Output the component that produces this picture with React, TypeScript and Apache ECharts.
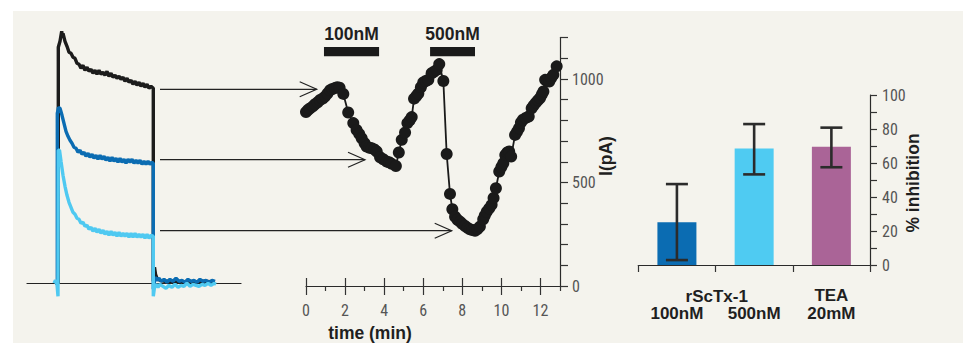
import React, { useEffect, useRef } from "react";
import * as echarts from "echarts";

// ---------- Left panel: current traces (hidden axes: x in ms, y in arbitrary current units) ----------
const blackTrace: number[][] = [
  [55, 0], [58.3, 0], [58.3, 236], [60, 242], [61.7, 252], [62.5, 246], [63, 250], [65, 242], [67, 237], [69, 231],
  [71, 230], [73, 226], [75, 225], [77, 220], [79, 219], [81, 215], [83, 218], [85, 213], [87, 216], [89, 212],
  [91, 214], [93, 210], [95, 213], [97, 209], [99, 213], [101, 209], [103, 211], [105, 208], [107, 212], [109, 207],
  [111, 210], [113, 206], [115, 208], [117, 205], [119, 207], [121, 204], [123, 206], [125, 202], [127, 205], [129, 201],
  [131, 203], [133, 199], [135, 202], [137, 198], [139, 201], [141, 197], [143, 200], [145, 196], [147, 199], [149, 195],
  [151, 197], [153.3, 195], [153.3, 2], [154.5, 16], [155.5, 9], [157, 5], [160, 3], [165, 2], [175, 2], [190, 1],
  [205, 2], [215, 1],
];
const darkBlueTrace: number[][] = [
  [55, 0], [57.3, 0], [57.3, 170], [58.5, 176], [60, 175], [62, 168], [64, 160], [66, 152], [68, 147], [70, 143],
  [72, 140], [74, 136], [76, 135], [78, 131], [80, 133], [82, 129], [84, 131], [86, 127], [88, 130], [90, 126],
  [92, 129], [94, 125], [96, 128], [98, 124], [100, 128], [102, 124], [104, 127], [106, 123], [108, 126], [110, 122],
  [112, 126], [114, 122], [116, 125], [118, 121], [120, 125], [122, 121], [124, 124], [126, 120], [128, 124], [130, 121],
  [132, 124], [134, 120], [136, 123], [138, 120], [140, 123], [142, 119], [144, 122], [146, 119], [148, 122], [150, 119],
  [152, 121], [153.3, 120], [153.3, -6], [155, 6], [157, 3], [159, 5], [161, 2], [164, 4], [167, 1], [170, 4],
  [173, 2], [176, 5], [179, 2], [182, 3], [185, 1], [188, 4], [191, 2], [194, 3], [197, 1], [200, 4],
  [203, 2], [206, 3], [209, 1], [212, 3], [215, 2],
];
const lightBlueTrace: number[][] = [
  [54, 0], [55.5, 3], [57, -1], [58, -13], [58.3, 133], [59.5, 133], [61, 122], [63, 108], [65, 97], [67, 88],
  [69, 81], [71, 76], [73, 71], [75, 69], [77, 65], [79, 64], [81, 60], [83, 61], [85, 57], [87, 58],
  [89, 54], [91, 56], [93, 52], [95, 55], [97, 51], [99, 54], [101, 50], [103, 53], [105, 49], [107, 52],
  [109, 48], [111, 52], [113, 48], [115, 51], [117, 47], [119, 51], [121, 47], [123, 50], [125, 47], [127, 50],
  [129, 46], [131, 50], [133, 46], [135, 50], [137, 46], [139, 49], [141, 46], [143, 49], [145, 45], [147, 49],
  [149, 45], [151, 48], [153.3, 47], [153.3, -13], [154.5, -4], [156, -1], [158, -4], [160, -1], [163, -3], [166, -5],
  [169, -2], [172, -4], [175, -1], [178, -4], [181, -2], [184, -3], [187, 0], [190, -3], [193, -1], [196, -2],
  [199, -3], [202, -1], [205, -2], [208, 0], [211, -2], [214, 0], [216, -1],
];

// ---------- Middle panel: current vs time ----------
const timeMin = [
  0.0, 0.1, 0.2, 0.35, 0.46, 0.6, 0.72, 0.85, 0.97, 1.1, 1.23, 1.35, 1.48, 1.6, 1.72, 1.91, 2.16, 2.42, 2.59, 2.72,
  2.85, 3.0, 3.1, 3.25, 3.36, 3.5, 3.62, 3.79, 3.95, 4.13, 4.25, 4.39, 4.6, 4.75, 4.9, 5.07, 5.19, 5.3, 5.41, 5.53,
  5.65, 5.75, 5.88, 6.0, 6.13, 6.26, 6.43, 6.55, 6.69, 6.82, 7.03, 7.2, 7.37, 7.49, 7.63, 7.75, 7.88, 8.0, 8.14, 8.27,
  8.39, 8.52, 8.65, 8.78, 8.9, 9.07, 9.15, 9.25, 9.38, 9.5, 9.6, 9.72, 9.89, 10.0, 10.1, 10.2, 10.3, 10.4, 10.5, 10.7,
  10.8, 10.9, 11.0, 11.1, 11.25, 11.4, 11.55, 11.65, 11.77, 11.88, 11.98, 12.07, 12.15, 12.24, 12.35, 12.45, 12.55, 12.66, 12.83,
];
const currentPA = [
  840, 850, 858, 868, 878, 888, 899, 905, 915, 930, 946, 952, 956, 960, 958, 928, 838, 787, 754, 735,
  714, 690, 674, 668, 666, 660, 650, 622, 612, 601, 598, 590, 580, 645, 706, 741, 787, 800, 816, 905,
  918, 930, 960, 983, 990, 996, 1028, 1035, 1044, 1072, 990, 638, 445, 371, 335, 320, 311, 300, 290, 281,
  274, 270, 267, 275, 287, 322, 340, 359, 375, 392, 425, 472, 553, 575, 593, 633, 645, 650, 625, 730,
  745, 762, 790, 803, 812, 819, 859, 872, 886, 898, 908, 925, 940, 996, 990, 988, 1005, 1020, 1061,
];
const timeMajorTicks = [0, 2, 4, 6, 8, 10, 12];
const timeMinorTicks = [1, 3, 5, 7, 9, 11, 13];
const currentLabels = [0, 500, 1000];
const drugNames = ["100nM", "500nM"];
const drugStart = [0.92, 6.35];
const drugEnd = [3.74, 8.65];

// ---------- Right panel: % inhibition ----------
const barCategories = ["\n100nM", "\n500nM", "TEA\n20mM"];
const inhibition = [25.1, 68.6, 69.6];
const errLow = [2.9, 53.3, 57.5];
const errHigh = [47.6, 82.9, 80.8];
const barColors = ["#0b6cb2", "#4fcbf2", "#aa6497"];
const inhibitionLabels = [0, 20, 40, 60, 80, 100];

const narrow = "'Roboto Condensed', 'Liberation Sans Narrow', 'Arial Narrow', 'DejaVu Sans Condensed', sans-serif";
const boldFamily = "'Liberation Sans', Arial, Helvetica, sans-serif";
const ink = "#1f1f1f";
const tickGrey = "#555";

// arrows (annotation)
const arrowY = [89.3, 159.7, 230.7];
const arrowTip = [316.7, 365, 451.7];

export default function App() {
  const ref = useRef<HTMLDivElement>(null);
  useEffect(() => {
    const chart = echarts.init(ref.current!, null, { renderer: "svg" });

    const graphics: any[] = [
      { type: "rect", shape: { x: 0, y: 0, width: 963, height: 11 }, style: { fill: "#ffffff" }, silent: true },
      { type: "rect", shape: { x: 0, y: 0, width: 13, height: 343 }, style: { fill: "#ffffff" }, silent: true },
    ];
    arrowY.forEach((y, i) => {
      graphics.push({
        type: "line",
        shape: { x1: 160, y1: y, x2: arrowTip[i], y2: y },
        style: { stroke: "#222", lineWidth: 1.2 },
        z: 1,
      });
      graphics.push({
        type: "polyline",
        shape: { points: [[arrowTip[i] - 17, y - 7.5], [arrowTip[i], y], [arrowTip[i] - 17, y + 7.5]] },
        style: { stroke: "#222", lineWidth: 1.2, fill: "none" },
        z: 1,
      });
    });
    graphics.push(
      {
        type: "text",
        x: 370,
        y: 333,
        style: { text: "time (min)", font: `bold 17.5px ${boldFamily}`, fill: ink, align: "center", verticalAlign: "middle" },
      },
      {
        type: "text",
        x: 606,
        y: 156,
        rotation: Math.PI / 2,
        style: { text: "I(pA)", font: `bold 17.5px ${boldFamily}`, fill: ink, align: "center", verticalAlign: "middle" },
      },
      {
        type: "text",
        x: 913,
        y: 183,
        rotation: Math.PI / 2,
        style: { text: "% inhibition", font: `bold 17.5px ${boldFamily}`, fill: ink, align: "center", verticalAlign: "middle" },
      },
      {
        type: "text",
        x: 716.7,
        y: 296,
        style: { text: "rScTx-1", font: `bold 17px ${boldFamily}`, fill: ink, align: "center", verticalAlign: "middle" },
      }
    );

    const axisLineStyle = { color: "#2a2a2a", width: 1.2 };
    const plain = (v: number) => String(v);

    const option: any = {
      animation: false,
      backgroundColor: "#f4f3ed",
      grid: [
        { left: 27, top: 23.3, width: 214, height: 280 },
        { left: 306, top: 37.6, width: 254, height: 248.4 },
        { left: 638.3, top: 95, width: 231.7, height: 170 },
      ],
      xAxis: [
        {
          gridIndex: 0, type: "value", min: 27, max: 241,
          axisLine: { show: true, onZero: true, lineStyle: { color: "#222", width: 1.2 } },
          axisTick: { show: false }, axisLabel: { show: false }, splitLine: { show: false },
        },
        {
          gridIndex: 1, type: "value", min: 0, max: 13, position: "bottom",
          axisLine: { show: true, onZero: false, lineStyle: axisLineStyle },
          axisTick: { show: true, length: 9, customValues: timeMajorTicks, lineStyle: { color: "#333", width: 1.2 } },
          axisLabel: { show: true, customValues: timeMajorTicks, formatter: plain, margin: 16, fontFamily: narrow, fontSize: 16, color: tickGrey },
          splitLine: { show: false },
        },
        {
          gridIndex: 1, type: "value", min: 0, max: 13, position: "bottom",
          axisLine: { show: false, onZero: false },
          axisTick: { show: true, length: 5, customValues: timeMinorTicks, lineStyle: { color: "#333", width: 1.2 } },
          axisLabel: { show: false }, splitLine: { show: false },
        },
        {
          gridIndex: 1, type: "value", min: 0, max: 13, position: "bottom",
          axisLine: { show: false, onZero: false },
          axisTick: { show: true, inside: true, length: 8, customValues: timeMajorTicks, lineStyle: { color: "#333", width: 1.2 } },
          axisLabel: { show: false }, splitLine: { show: false },
        },
        {
          gridIndex: 2, type: "category", data: barCategories,
          axisLine: { show: true, onZero: false, lineStyle: axisLineStyle },
          axisTick: { show: true, length: 7, lineStyle: { color: "#333", width: 1.2 } },
          axisLabel: {
            show: true, interval: 0, margin: 22, lineHeight: 17.5,
            fontFamily: boldFamily, fontWeight: "bold", fontSize: 17, color: ink,
          },
          splitLine: { show: false },
        },
      ],
      yAxis: [
        { gridIndex: 0, type: "value", min: -20, max: 260, show: false },
        {
          gridIndex: 1, type: "value", min: 0, max: 1200, interval: 100, position: "right",
          axisLine: { show: true, onZero: false, lineStyle: axisLineStyle },
          axisTick: { show: true, length: 8, lineStyle: { color: "#333", width: 1.2 } },
          axisLabel: { show: true, customValues: currentLabels, formatter: plain, margin: 12, fontFamily: narrow, fontSize: 16, color: tickGrey },
          splitLine: { show: false },
        },
        {
          gridIndex: 2, type: "value", min: 0, max: 100, interval: 10, position: "right",
          axisLine: { show: true, onZero: false, lineStyle: axisLineStyle },
          axisTick: { show: true, length: 7, lineStyle: { color: "#333", width: 1.2 } },
          axisLabel: { show: true, customValues: inhibitionLabels, formatter: plain, margin: 12, fontFamily: narrow, fontSize: 16, color: tickGrey },
          splitLine: { show: false },
        },
      ],
      graphic: graphics,
      series: [
        {
          type: "line", xAxisIndex: 0, yAxisIndex: 0, data: blackTrace, showSymbol: false,
          lineStyle: { color: "#1c1c1c", width: 3.4 }, z: 2, clip: false,
        },
        {
          type: "line", xAxisIndex: 0, yAxisIndex: 0, data: darkBlueTrace, showSymbol: false,
          lineStyle: { color: "#0b6cb2", width: 3.4 }, z: 3, clip: false,
        },
        {
          type: "line", xAxisIndex: 0, yAxisIndex: 0, data: lightBlueTrace, showSymbol: false,
          lineStyle: { color: "#4fc9f1", width: 3.4 }, z: 4, clip: false,
        },
        {
          type: "line", xAxisIndex: 1, yAxisIndex: 1,
          data: timeMin.map((t, i) => [t, currentPA[i]]),
          symbol: "circle", symbolSize: 12, showAllSymbol: true, clip: false,
          lineStyle: { color: "#1a1a1a", width: 1.8 },
          itemStyle: { color: "#1a1a1a" },
          markArea: {
            silent: true,
            itemStyle: { color: "#1a1a1a" },
            label: {
              show: true, position: "top", distance: 4, color: ink,
              fontFamily: boldFamily, fontWeight: "bold", fontSize: 17.5,
            },
            data: drugNames.map((n, i) => [
              { name: n, coord: [drugStart[i], 1110] },
              { coord: [drugEnd[i], 1155] },
            ]),
          },
        },
        {
          type: "bar", xAxisIndex: 4, yAxisIndex: 2, barWidth: 39,
          data: inhibition.map((v, i) => ({ value: v, itemStyle: { color: barColors[i] } })),
          z: 2,
        },
        {
          type: "custom", xAxisIndex: 4, yAxisIndex: 2, z: 5,
          data: inhibition.map((_, i) => [i, errLow[i], errHigh[i]]),
          encode: { x: 0, y: [1, 2] },
          renderItem: (params: any, api: any) => {
            const idx = api.value(0);
            const lo = api.coord([idx, api.value(1)]);
            const hi = api.coord([idx, api.value(2)]);
            const half = 11;
            const st = { stroke: "#2b2b2b", lineWidth: 2.6 };
            return {
              type: "group",
              children: [
                { type: "line", shape: { x1: hi[0], y1: hi[1], x2: lo[0], y2: lo[1] }, style: st },
                { type: "line", shape: { x1: hi[0] - half, y1: hi[1], x2: hi[0] + half, y2: hi[1] }, style: st },
                { type: "line", shape: { x1: lo[0] - half, y1: lo[1], x2: lo[0] + half, y2: lo[1] }, style: st },
              ],
            };
          },
        },
      ],
    };
    chart.setOption(option);
    return () => chart.dispose();
  }, []);
  return <div ref={ref} style={{ position: "fixed", left: 0, top: 0, width: 963, height: 343 }} />;
}
